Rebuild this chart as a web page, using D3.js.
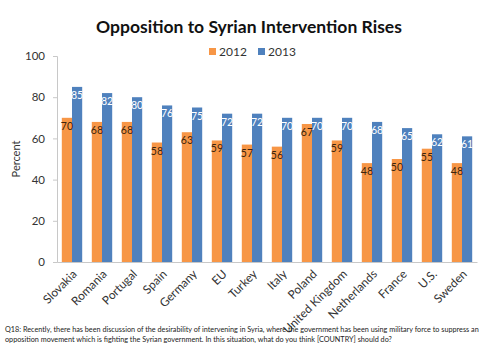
<!DOCTYPE html>
<html>
<head>
<meta charset="utf-8">
<script src="https://cdn.jsdelivr.net/npm/d3@7"></script>
<style>
  body { margin: 0; background: #fff; }
  svg { font-family: Lato, "Open Sans", sans-serif; }
</style>
</head>
<body>
<svg id="chart" width="485" height="350"></svg>
<script>
const countries = ["Slovakia", "Romania", "Portugal", "Spain", "Germany", "EU", "Turkey",
  "Italy", "Poland", "United Kingdom", "Netherlands", "France", "U.S.", "Sweden"];
const years = ["2012", "2013"];
const values2012 = [70, 68, 68, 58, 63, 59, 57, 56, 67, 59, 48, 50, 55, 48];
const values2013 = [85, 82, 80, 76, 75, 72, 72, 70, 70, 70, 68, 65, 62, 61];
const yTicks = [0, 20, 40, 60, 80, 100];

const colors = {"2012": "#F79646", "2013": "#4F81BD"};
const labelColors = {"2012": "#3b2410", "2013": "#ffffff"};

const svg = d3.select("#chart");
const margin = {top: 56, right: 8, bottom: 88, left: 57};
const width = 485, height = 350;

const rows = countries.map((c, i) => ({country: c, "2012": values2012[i], "2013": values2013[i]}));

const x = d3.scaleBand().domain(countries).range([margin.left, width - margin.right]).paddingInner(0.32).paddingOuter(0.16);
const xs = d3.scaleBand().domain(years).range([0, x.bandwidth()]);
const y = d3.scaleLinear().domain([0, 100]).range([height - margin.bottom, margin.top]);

// shrink a text until it fits a given width
function fit(sel, w) {
  const n = sel.node();
  const cur = parseFloat(sel.style("font-size"));
  const len = n.getComputedTextLength();
  if (len > 0) sel.style("font-size", (cur * w / len).toFixed(2) + "px");
}

// title
const title = svg.append("text")
  .attr("x", 249).attr("y", 33)
  .attr("text-anchor", "middle")
  .style("font-size", "18px").style("font-weight", "bold").style("fill", "#111")
  .text("Opposition to Syrian Intervention Rises");
fit(title, 306);

// legend
const legend = svg.append("g").selectAll("g")
  .data(years)
  .join("g")
  .attr("transform", (d, i) => `translate(${209 + i * 49}, 48)`);
legend.append("rect").attr("width", 7).attr("height", 7).attr("fill", d => colors[d]);
legend.append("text").attr("x", 10).attr("y", 4).attr("dy", "0.35em")
  .style("font-size", "12px").style("fill", "#333").text(d => d);

// y axis
const yAxis = svg.append("g")
  .attr("transform", `translate(${margin.left},0)`)
  .call(d3.axisLeft(y).tickValues(yTicks).tickSize(4).tickPadding(8));
yAxis.select(".domain").attr("stroke", "#c8c8c8");
yAxis.selectAll(".tick line").attr("stroke", "#c8c8c8");
yAxis.selectAll(".tick text").style("font-size", "11.5px").style("fill", "#333")
  .style("font-family", "Lato, sans-serif");

svg.append("text")
  .attr("transform", `translate(20, ${y(50)}) rotate(-90)`)
  .attr("text-anchor", "middle")
  .style("font-size", "11px").style("fill", "#333")
  .text("Percent");

// bars
const groups = svg.append("g").selectAll("g")
  .data(rows)
  .join("g")
  .attr("transform", d => `translate(${x(d.country)},0)`);

groups.selectAll("rect")
  .data(d => years.map(k => ({key: k, value: d[k]})))
  .join("rect")
  .attr("x", d => xs(d.key))
  .attr("y", d => y(d.value))
  .attr("width", xs.bandwidth())
  .attr("height", d => y(0) - y(d.value))
  .attr("fill", d => colors[d.key]);

groups.selectAll("text.val")
  .data(d => years.map(k => ({key: k, value: d[k]})))
  .join("text")
  .attr("class", "val")
  .attr("x", d => xs(d.key) + xs.bandwidth() / 2)
  .attr("y", d => y(d.value) + 12)
  .attr("text-anchor", "middle")
  .style("font-size", "10.5px")
  .style("fill", d => labelColors[d.key])
  .text(d => d.value);

// x axis
const xAxis = svg.append("g")
  .attr("transform", `translate(0,${y(0)})`)
  .call(d3.axisBottom(x).tickSize(0).tickPadding(4));
xAxis.select(".domain").attr("stroke", "#c8c8c8");
xAxis.selectAll(".tick text")
  .style("font-size", "11.8px").style("fill", "#333")
  .style("font-family", "Lato, sans-serif")
  .attr("text-anchor", "end")
  .attr("transform", "translate(0,7) rotate(-45)")
  .attr("dy", "0.35em");

// footnote
const note = svg.append("text")
  .attr("y", 332)
  .style("font-size", "7.5px").style("fill", "#222");
const line1 = note.append("tspan").attr("x", 5)
  .text("Q18: Recently, there has been discussion of the desirability of intervening in Syria, where the government has been using military force to suppress an");
note.append("tspan").attr("x", 5).attr("dy", 9.5)
  .text("opposition movement which is fighting the Syrian government.  In this situation, what do you think [COUNTRY] should do?");
const l1 = line1.node().getComputedTextLength();
if (l1 > 0) note.style("font-size", (7.5 * 474 / l1).toFixed(2) + "px");
</script>
</body>
</html>
